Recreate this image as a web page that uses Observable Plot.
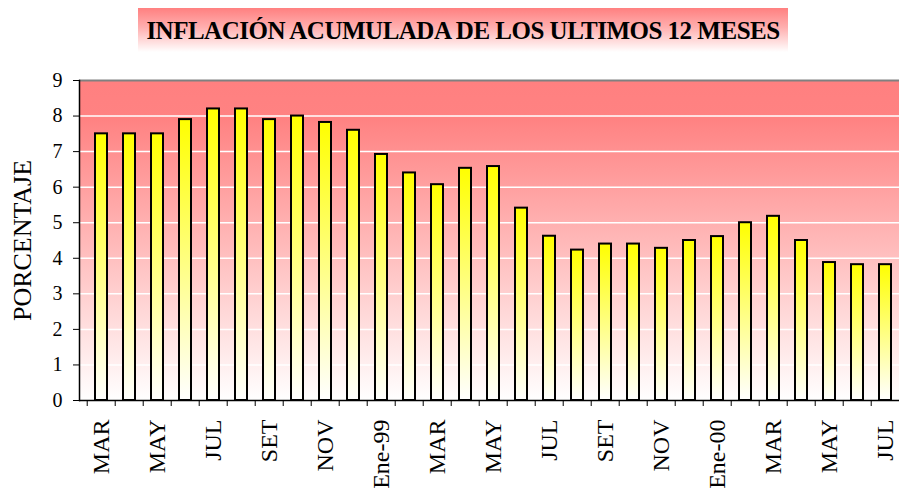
<!DOCTYPE html>
<html>
<head>
<meta charset="utf-8">
<script src="https://cdn.jsdelivr.net/npm/d3@7"></script>
<script src="https://cdn.jsdelivr.net/npm/@observablehq/plot@0.6"></script>
<style>
  html, body { margin: 0; padding: 0; background: #fff; overflow: hidden; width: 899px; height: 489px; }
  #title-wrap { height: 60px; position: relative; }
  #title {
    position: absolute; left: 138px; top: 8px; width: 650px; height: 44px;
    background: linear-gradient(to bottom, #ff8080 0%, #ffb0b0 45%, #ffffff 100%);
    font-family: "Liberation Serif", "Times New Roman", serif; font-weight: bold;
    font-size: 25px; line-height: 46px; text-align: center; color: #000;
    white-space: nowrap; letter-spacing: -0.5px;
  }
  svg { display: block; }
  svg text { font-family: "Liberation Serif", "Times New Roman", serif; }
</style>
</head>
<body>
<div id="title-wrap"><div id="title">INFLACIÓN ACUMULADA DE LOS ULTIMOS 12 MESES</div></div>
<div id="chart"></div>
<script>
const months = ["MAR","ABR","MAY","JUN","JUL","AGO","SET","OCT","NOV","DIC","Ene-99","FEB",
  "MAR","ABR","MAY","JUN","JUL","AGO","SET","OCT","NOV","DIC","Ene-00","FEB",
  "MAR","ABR","MAY","JUN","JUL"];
const values = [7.5, 7.5, 7.5, 7.9, 8.2, 8.2, 7.9, 8.0, 7.82, 7.6, 6.92, 6.4,
  6.07, 6.53, 6.58, 5.41, 4.62, 4.23, 4.4, 4.4, 4.28, 4.5,
  4.61, 5.0, 5.18, 4.5, 3.88, 3.82, 3.82];
const yTicks = [0,1,2,3,4,5,6,7,8,9];
const gridValues = [1,2,3,4,5,6,7,8];

const data = months.map((m, i) => ({i, month: m, value: values[i]}));
const idx = d3.range(months.length);

const serif = "'Liberation Serif', 'Times New Roman', serif";
const width = 899, height = 429, marginLeft = 79, marginRight = -9;
const step = (width - marginLeft - marginRight) / months.length;

function defs() {
  const d = d3.create("svg:defs");
  const bg = d.append("linearGradient").attr("id", "bgGrad").attr("x1", 0).attr("y1", 0).attr("x2", 0).attr("y2", 1);
  bg.append("stop").attr("offset", "0%").attr("stop-color", "#ff8080");
  bg.append("stop").attr("offset", "12%").attr("stop-color", "#ff8282");
  bg.append("stop").attr("offset", "100%").attr("stop-color", "#ffffff");
  const bar = d.append("linearGradient").attr("id", "barGrad").attr("x1", 0).attr("y1", 0).attr("x2", 0).attr("y2", 1);
  bar.append("stop").attr("offset", "0%").attr("stop-color", "#ffff00");
  bar.append("stop").attr("offset", "100%").attr("stop-color", "#ffffff");
  return d.node();
}

const chart = Plot.plot({
  width, height,
  marginTop: 20, marginBottom: 89, marginLeft, marginRight,
  style: {fontFamily: serif, color: "#000", background: "transparent"},
  x: {type: "band", domain: idx, paddingInner: 0.56, paddingOuter: 0.28},
  y: {domain: [0, 9]},
  marks: [
    defs,
    Plot.frame({fill: "url(#bgGrad)", stroke: "none"}),
    Plot.ruleY(gridValues, {stroke: "#ffffff", strokeWidth: 1.5}),
    Plot.ruleY([9], {stroke: "#808080", strokeWidth: 2}),
    Plot.barY(data, {x: "i", y: "value", fill: "url(#barGrad)", stroke: "#000", strokeWidth: 2}),
    Plot.ruleY([0], {stroke: "#000", strokeWidth: 1.5}),
    Plot.frame({anchor: "left", stroke: "#000", strokeWidth: 1.5}),
    Plot.axisY({ticks: yTicks, tickSize: 6, tickPadding: 11, fontSize: 20, fontFamily: serif, label: null, stroke: "#000"}),
    Plot.axisX({ticks: idx, tickSize: 6, tickFormat: () => "", dx: -step / 2, label: null, stroke: "#000"}),
    Plot.axisX({ticks: idx.filter(i => i % 2 === 0), tickSize: 0, tickPadding: 19, tickRotate: -90,
      tickFormat: i => months[i], fontSize: 24, fontFamily: serif, label: null}),
    Plot.text(["PORCENTAJE"], {frameAnchor: "left", textAnchor: "middle", lineAnchor: "middle", rotate: -90, dx: -57, fontSize: 26, fontFamily: serif, fill: "#000"})
  ]
});
document.getElementById("chart").appendChild(chart);
</script>
</body>
</html>
